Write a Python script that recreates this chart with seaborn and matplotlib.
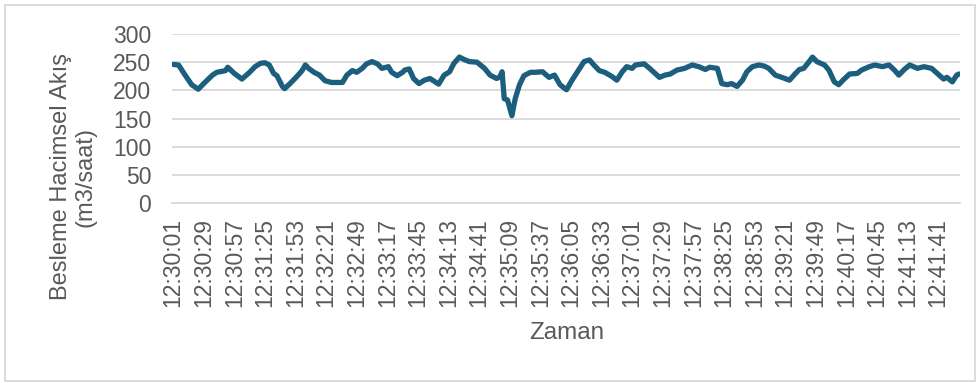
import datetime as dt

import matplotlib
matplotlib.use("Agg")
import matplotlib.pyplot as plt
from matplotlib.patches import Rectangle
import numpy as np
import pandas as pd
import seaborn as sns

# Feed volumetric flow readings, seconds elapsed since 12:30:01
elapsed_s = [
    0, 5, 11, 17, 23, 28, 36, 40, 48, 50, 56, 63, 70, 75, 80, 84, 88, 92, 95,
    100, 102, 107, 113, 118, 121, 124, 129, 134, 139, 145, 155, 159, 164, 168,
    173, 177, 182, 187, 191, 197, 200, 205, 210, 212, 216, 220, 225, 230, 235,
    243, 248, 253, 257, 262, 266, 271, 278, 285, 290, 296, 299, 301, 303, 306,
    310, 313, 317, 321, 327, 331, 338, 344, 349, 354, 360, 365, 371, 376, 381,
    385, 390, 395, 402, 406, 411, 415, 420, 423, 431, 436, 445, 450, 455, 461,
    468, 475, 481, 487, 491, 498, 502, 507, 511, 516, 521, 525, 530, 536, 541,
    545, 551, 557, 564, 569, 573, 577, 582, 585, 589, 596, 600, 605, 609, 614,
    619, 626, 630, 637, 642, 649, 655, 660, 664, 669, 674, 681, 687, 694, 701,
    705, 708, 713, 717, 719,
]
flow_m3h = [
    246, 245, 227, 210, 202, 212, 227, 232, 235, 241, 230, 220, 232, 242, 248,
    249, 245, 230, 226, 207, 203, 212, 224, 235, 245, 239, 232, 227, 217, 214,
    214, 227, 235, 232, 239, 247, 251, 247, 239, 242, 232, 226, 232, 236, 238,
    221, 212, 218, 221, 211, 227, 233, 248, 259, 255, 251, 250, 239, 227, 221,
    224, 233, 185, 183, 155, 185, 210, 226, 232, 232, 233, 223, 227, 210, 201,
    218, 236, 251, 254, 245, 235, 232, 224, 218, 233, 242, 239, 245, 247, 239,
    223, 227, 229, 236, 239, 245, 242, 237, 241, 239, 212, 210, 212, 207, 218,
    233, 242, 245, 243, 239, 227, 223, 218, 229, 237, 239, 251, 259, 251, 245,
    236, 215, 210, 220, 229, 230, 236, 242, 245, 242, 245, 236, 227, 237, 245,
    239, 242, 239, 227, 220, 223, 215, 227, 229,
]

start_time = dt.datetime(2000, 1, 1, 12, 30, 1)
tick_step_s = 28
y_ticks = [0, 50, 100, 150, 200, 250, 300]

df = pd.DataFrame({"t": elapsed_s, "flow": flow_m3h})

sns.set_theme(style="white")
plt.rcParams["font.family"] = ["Liberation Sans", "DejaVu Sans"]

W, H = 979, 383
fig = plt.figure(figsize=(W / 100, H / 100), dpi=100)
ax = fig.add_axes([172 / W, 1 - 203 / H, (960 - 172) / W, (203 - 34) / H])

sns.lineplot(data=df, x="t", y="flow", ax=ax, color="#1b5e7e", linewidth=3.8,
             solid_joinstyle="round", solid_capstyle="round")

x_ticks = np.arange(0, 701, tick_step_s)
x_labels = [(start_time + dt.timedelta(seconds=int(s))).strftime("%H:%M:%S")
            for s in x_ticks]
ax.set_xticks(x_ticks)
ax.set_xticklabels(x_labels, rotation=90)
ax.set_xlim(-1, 720)
ax.set_ylim(0, 300)
ax.set_yticks(y_ticks)
ax.set_yticklabels([str(v) for v in y_ticks])

ax.grid(axis="y", color="#d9d9d9", linewidth=1.3)
ax.grid(axis="x", visible=False)
ax.set_axisbelow(True)
for sp in ax.spines.values():
    sp.set_visible(False)
ax.spines["bottom"].set_visible(True)
ax.spines["bottom"].set_color("#d9d9d9")
ax.spines["bottom"].set_linewidth(1.3)

ax.tick_params(axis="x", length=0, pad=11, labelsize=16.5, labelcolor="#595959")
ax.tick_params(axis="y", length=0, pad=15, labelsize=16.5, labelcolor="#595959")
ax.set_xlabel("")
ax.set_ylabel("")

fig.text(73 / W, 1 - 177 / H, "Besleme Hacimsel Akış\n(m3/saat)", rotation=90,
         ha="center", va="center", fontsize=17, color="#595959",
         linespacing=1.15)
fig.text(567 / W, 1 - 333 / H, "Zaman", ha="center", va="center",
         fontsize=17.5, color="#595959")

fig.patches.append(Rectangle((5 / W, 2 / H), 970 / W, 376 / H,
                             transform=fig.transFigure, fill=False,
                             edgecolor="#d9d9d9", linewidth=1.3))

fig.savefig("out.png", dpi=100)
